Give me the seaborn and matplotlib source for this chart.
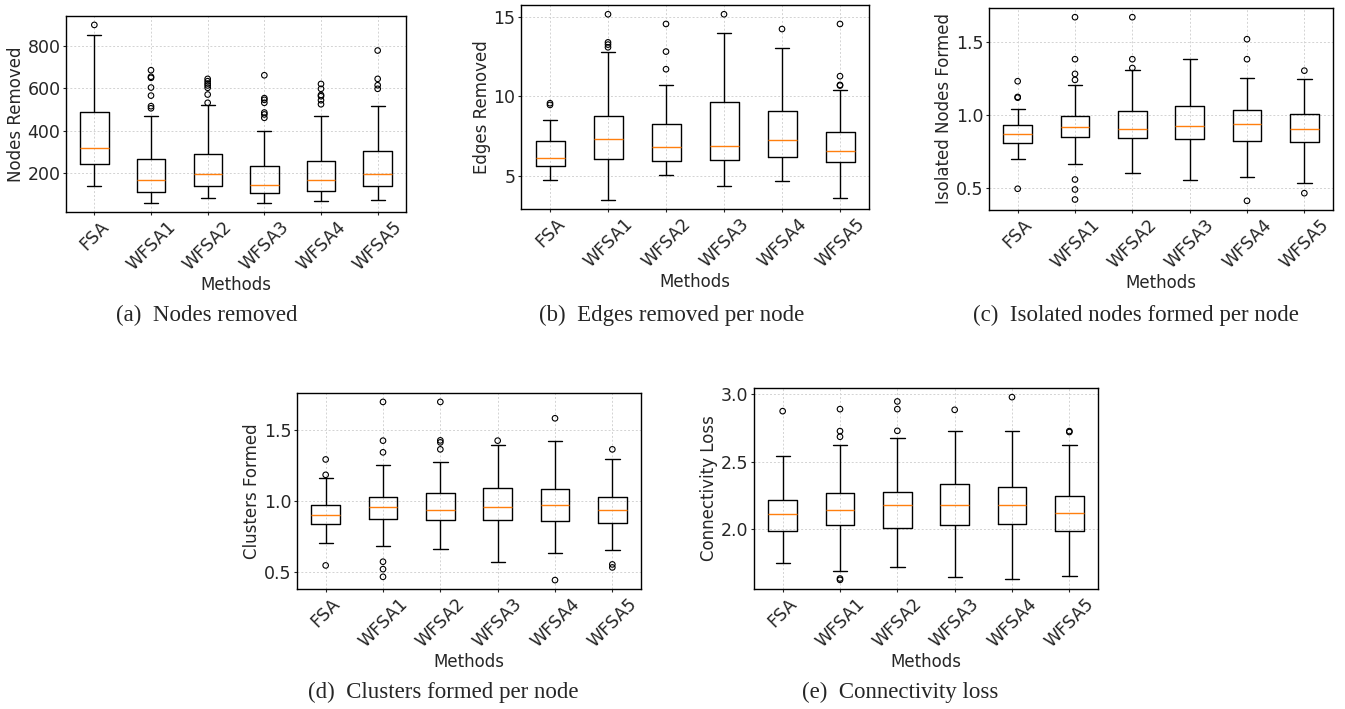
import pandas as pd
import seaborn as sns
import matplotlib.pyplot as plt

methods = ["FSA", "WFSA1", "WFSA2", "WFSA3", "WFSA4", "WFSA5"]

# box summaries: whisker low, Q1, median, Q3, whisker high
nodes_box = [
    [140, 244, 317, 488, 852],
    [57, 110, 165, 266, 469],
    [79, 137, 194, 291, 520],
    [57, 107, 142, 231, 400],
    [69, 115, 164, 257, 469],
    [72, 137, 195, 304, 515],
]
nodes_out = [
    [899],
    [685, 654, 649, 603, 565, 515, 505],
    [644, 633, 622, 613, 602, 570, 531],
    [661, 553, 545, 531, 485, 476, 460],
    [620, 597, 568, 562, 543, 524],
    [778, 644, 614, 597],
]

edges_box = [
    [4.73, 5.63, 6.13, 7.16, 8.54],
    [3.49, 6.05, 7.31, 8.79, 12.80],
    [5.06, 5.96, 6.80, 8.25, 10.74],
    [4.33, 6.01, 6.87, 9.65, 13.97],
    [4.66, 6.19, 7.24, 9.05, 13.07],
    [3.62, 5.84, 6.59, 7.75, 10.41],
]
edges_out = [
    [9.57, 9.46],
    [15.17, 13.40, 13.26, 13.09],
    [14.56, 12.82, 11.71],
    [15.17],
    [14.24],
    [14.56, 11.27, 10.72, 10.68],
]

isolated_box = [
    [0.700, 0.811, 0.870, 0.932, 1.039],
    [0.666, 0.850, 0.918, 0.995, 1.205],
    [0.602, 0.841, 0.907, 1.025, 1.305],
    [0.561, 0.834, 0.925, 1.061, 1.380],
    [0.577, 0.823, 0.936, 1.036, 1.255],
    [0.534, 0.816, 0.902, 1.005, 1.243],
]
isolated_out = [
    [1.230, 1.123, 1.118, 0.498],
    [1.666, 1.380, 1.280, 1.239, 0.561, 0.493, 0.425],
    [1.666, 1.380, 1.320],
    [],
    [1.516, 1.380, 0.416],
    [1.302, 0.468],
]

clusters_box = [
    [0.709, 0.840, 0.904, 0.972, 1.160],
    [0.683, 0.873, 0.958, 1.026, 1.254],
    [0.662, 0.869, 0.941, 1.059, 1.272],
    [0.575, 0.871, 0.962, 1.092, 1.392],
    [0.634, 0.859, 0.974, 1.089, 1.425],
    [0.657, 0.845, 0.941, 1.031, 1.293],
]
clusters_out = [
    [1.293, 1.185, 0.549],
    [1.697, 1.425, 1.343, 0.575, 0.523, 0.469],
    [1.697, 1.427, 1.413, 1.364],
    [1.425],
    [1.582, 0.446],
    [1.364, 0.556, 0.535],
]

conn_box = [
    [1.746, 1.985, 2.109, 2.212, 2.543],
    [1.686, 2.030, 2.141, 2.269, 2.625],
    [1.716, 2.007, 2.178, 2.277, 2.672],
    [1.640, 2.030, 2.175, 2.331, 2.723],
    [1.627, 2.037, 2.178, 2.314, 2.723],
    [1.652, 1.988, 2.121, 2.244, 2.625],
]
conn_out = [
    [2.874],
    [2.889, 2.726, 2.684, 1.632, 1.622],
    [2.946, 2.889, 2.728],
    [2.884],
    [2.978],
    [2.726, 2.719],
]


def long_frame(groups):
    rows = [(m, v) for m, vals in zip(methods, groups) for v in vals]
    return pd.DataFrame(rows, columns=["Methods", "value"])


def draw_panel(ax, box, out, ylabel, yticks):
    sns.boxplot(data=long_frame(box), x="Methods", y="value", order=methods,
                whis=(0, 100), width=0.5, fill=False, color="black",
                saturation=1, linewidth=1,
                medianprops={"color": "#ff7f0e"}, ax=ax)
    sns.stripplot(data=long_frame(out), x="Methods", y="value", order=methods,
                  jitter=False, color="black", facecolor="none",
                  edgecolor="black", linewidth=0.8, size=4, marker="o", ax=ax)
    ax.set_xlabel("Methods", labelpad=2)
    ax.set_ylabel(ylabel, labelpad=2)
    ax.set_yticks(yticks)
    ax.tick_params(axis="x", rotation=45)
    ax.grid(True, linestyle=(0, (2, 2)), linewidth=0.7, color="#d3d3d3")
    ax.set_axisbelow(True)


sns.set_theme(style="ticks", rc={
    "xtick.labelsize": 12.5,
    "ytick.labelsize": 12.5,
    "axes.labelsize": 12,
    "axes.edgecolor": "black",
    "axes.linewidth": 1.0,
    "xtick.major.size": 2.5,
    "ytick.major.size": 2.5,
    "xtick.major.width": 0.8,
    "ytick.major.width": 0.8,
    "xtick.major.pad": 1.5,
    "ytick.major.pad": 1.5,
})
plt.rcParams["font.family"] = ["DejaVu Sans"]

W, H = 1345, 709
fig = plt.figure(figsize=(W / 100, H / 100), dpi=100)


def add_axes(left, right, top, bottom):
    return fig.add_axes([left / W, 1 - bottom / H, (right - left) / W, (bottom - top) / H])


panels = [
    ((66, 406, 16, 212), nodes_box, nodes_out, "Nodes Removed", [200, 400, 600, 800]),
    ((521, 869, 5, 209), edges_box, edges_out, "Edges Removed", [5, 10, 15]),
    ((989, 1333, 8, 210), isolated_box, isolated_out, "Isolated Nodes Formed", [0.5, 1.0, 1.5]),
    ((297, 641, 393, 589), clusters_box, clusters_out, "Clusters Formed", [0.5, 1.0, 1.5]),
    ((754, 1098, 388, 589), conn_box, conn_out, "Connectivity Loss", [2.0, 2.5, 3.0]),
]
for rect, box, out, ylabel, yticks in panels:
    ax = add_axes(*rect)
    draw_panel(ax, box, out, ylabel, yticks)

captions = [
    (207, 315, "(a)  Nodes removed"),
    (672, 315, "(b)  Edges removed per node"),
    (1136, 315, "(c)  Isolated nodes formed per node"),
    (443, 692, "(d)  Clusters formed per node"),
    (900, 692, "(e)  Connectivity loss"),
]
for x, y, text in captions:
    fig.text(x / W, 1 - y / H, text, ha="center", va="center",
             family="Liberation Serif", fontsize=16.5)

fig.savefig("out.png", dpi=100, facecolor="white")
